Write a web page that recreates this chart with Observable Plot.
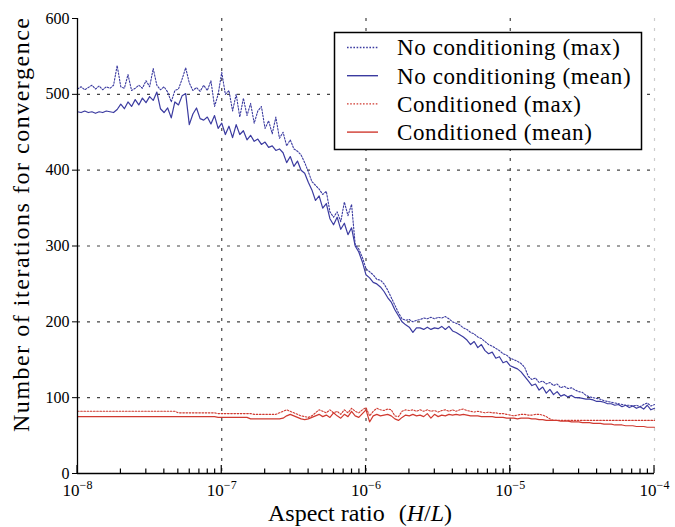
<!DOCTYPE html>
<html><head><meta charset="utf-8">
<script src="https://cdn.jsdelivr.net/npm/d3@7"></script>
<script src="https://cdn.jsdelivr.net/npm/@observablehq/plot@0.6"></script>
<style>
body{margin:0;background:#fff}
#chart{width:675px;height:527px}
</style>
</head><body><div id="chart"></div>
<script>
// log10 of aspect ratio H/L
const exps = [
-8,-7.975,-7.95,-7.925,-7.9,-7.875,-7.85,-7.825,-7.8,-7.775,
-7.75,-7.725,-7.7,-7.675,-7.65,-7.625,-7.6,-7.575,-7.55,-7.525,
-7.5,-7.475,-7.45,-7.425,-7.4,-7.375,-7.35,-7.325,-7.3,-7.275,
-7.25,-7.225,-7.2,-7.175,-7.15,-7.125,-7.1,-7.075,-7.05,-7.025,
-7,-6.975,-6.95,-6.925,-6.9,-6.875,-6.85,-6.825,-6.8,-6.775,
-6.75,-6.725,-6.7,-6.675,-6.65,-6.625,-6.6,-6.575,-6.55,-6.525,
-6.5,-6.475,-6.45,-6.425,-6.4,-6.375,-6.35,-6.325,-6.3,-6.275,
-6.25,-6.225,-6.2,-6.175,-6.15,-6.125,-6.1,-6.075,-6.05,-6.025,
-6,-5.975,-5.95,-5.925,-5.9,-5.875,-5.85,-5.825,-5.8,-5.775,
-5.75,-5.725,-5.7,-5.675,-5.65,-5.625,-5.6,-5.575,-5.55,-5.525,
-5.5,-5.475,-5.45,-5.425,-5.4,-5.375,-5.35,-5.325,-5.3,-5.275,
-5.25,-5.225,-5.2,-5.175,-5.15,-5.125,-5.1,-5.075,-5.05,-5.025,
-5,-4.975,-4.95,-4.925,-4.9,-4.875,-4.85,-4.825,-4.8,-4.775,
-4.75,-4.725,-4.7,-4.675,-4.65,-4.625,-4.6,-4.575,-4.55,-4.525,
-4.5,-4.475,-4.45,-4.425,-4.4,-4.375,-4.35,-4.325,-4.3,-4.275,
-4.25,-4.225,-4.2,-4.175,-4.15,-4.125,-4.1,-4.075,-4.05,-4.025,
-4];

const noCondMax = [
507,510,506,509,512,507,511,506,510,508,
512,538,510,508,526,505,508,512,508,518,
510,534,512,506,510,503,490,505,507,520,
535,515,505,509,504,512,505,518,484,500,
529,500,505,478,500,470,495,472,488,462,
478,484,455,465,448,470,442,450,432,440,
428,425,420,410,398,385,380,375,368,372,
345,338,345,332,358,340,355,302,296,285,
270,266,262,256,255,250,242,232,222,212,
204,202,203,200,202,203,205,204,206,204,
206,205,207,204,200,198,196,192,190,186,
184,180,178,174,170,168,165,162,158,156,
152,150,148,145,140,128,124,126,120,122,
118,120,116,118,113,115,112,113,110,108,
107,103,101,100,99,98,96,95,94,93,
92,91,90,90,89,90,88,91,93,89,
91];

const noCondMean = [
477,476,478,476,477,475,477,476,478,477,
476,480,487,481,490,484,493,486,495,489,
497,492,503,481,476,482,469,490,486,498,
501,460,474,482,468,466,470,461,472,455,
462,447,458,443,460,447,452,440,446,438,
441,434,437,430,432,426,428,423,410,418,
405,412,400,396,384,374,360,366,350,356,
336,328,338,322,330,315,324,300,292,279,
262,258,252,250,246,240,232,226,216,208,
200,196,193,186,192,192,190,193,190,192,
191,194,190,194,188,186,183,180,176,170,
174,166,170,162,158,160,152,154,146,148,
142,140,138,134,128,122,116,118,110,114,
106,111,104,108,102,104,101,103,100,100,
99,98,98,97,95,95,94,92,92,90,
91,88,90,87,89,86,88,85,90,84,
86];

const condMax = [
82,82,82,82,82,82,82,82,82,82,
82,82,82,82,82,82,82,82,82,82,
82,82,82,82,82,82,82,82,80,80,
80,80,80,80,80,80,80,80,80,79,
79,79,79,79,79,79,79,79,79,78,
78,78,78,78,78,78,80,82,84,82,
80,78,76,75,74,76,80,84,82,80,
84,80,82,78,84,80,86,82,80,84,
87,76,82,86,84,83,85,84,76,75,
82,84,83,84,82,84,82,84,82,83,
81,83,84,82,84,82,84,85,83,82,
81,82,81,80,81,80,80,79,79,78,
77,76,77,78,78,77,77,78,78,77,
75,72,70,70,70,70,70,70,70,70,
70,70,70,70,70,70,70,70,70,70,
70,70,70,70,70,70,70,70,70,70,
70];

const condMean = [
75,75,75,75,75,75,75,75,75,75,
75,75,75,75,75,75,75,75,75,75,
75,75,75,75,75,75,75,75,75,75,
75,75,75,75,75,75,75,75,75,74,
74,74,74,74,74,74,74,74,72,72,
72,72,72,72,72,72,72,73,76,78,
76,74,72,71,72,74,76,78,75,77,
74,80,76,73,78,75,82,76,74,79,
84,68,76,78,76,77,78,76,72,70,
74,77,76,78,76,77,75,79,73,78,
75,77,76,78,77,78,77,78,77,76,
76,76,75,75,75,75,74,74,74,73,
73,73,72,73,73,73,72,72,71,71,
70,70,70,70,69,69,69,68,68,68,
67,67,67,66,66,66,65,65,65,64,
64,64,63,63,63,62,62,62,61,61,
61];

const seriesLabels = ["No conditioning (max)", "No conditioning (mean)", "Conditioned (max)", "Conditioned (mean)"];
const yTicks = [0, 100, 200, 300, 400, 500, 600];
const yGridValues = [100, 200, 300, 400, 500];
const decades = [1e-8, 1e-7, 1e-6, 1e-5, 1e-4];

const BLUE = "#3b3ba0", RED = "#d03a30";
const styles = [
  {stroke: BLUE, dash: "1.6,1.6"},
  {stroke: BLUE, dash: null},
  {stroke: RED, dash: "1.6,1.6"},
  {stroke: RED, dash: null}
];

const data = exps.map((e, i) => ({
  x: Math.pow(10, e),
  noCondMax: noCondMax[i], noCondMean: noCondMean[i],
  condMax: condMax[i], condMean: condMean[i]
}));

const minorTicks = [];
for (let d = -8; d < -4; d++) for (let k = 2; k <= 9; k++) minorTicks.push(k * Math.pow(10, d));

const gridStyle = {stroke: "#444", strokeOpacity: 1, strokeWidth: 1.2, strokeDasharray: "3,7"};
const FONT = "'Liberation Serif', serif";

const svg = Plot.plot({
  width: 675, height: 527,
  marginLeft: 77, marginRight: 21, marginTop: 18, marginBottom: 54,
  x: {type: "log", domain: [1e-8, 1e-4]},
  y: {domain: [0, 600]},
  style: {fontFamily: FONT, fontSize: "16px", color: "#000", background: "#fff"},
  marks: [
    Plot.gridY({ticks: yGridValues, ...gridStyle}),
    Plot.gridX({ticks: decades.slice(1, 4), ...gridStyle}),
    Plot.gridX({ticks: [1e-4], ...gridStyle, stroke: "#ccc"}),
    Plot.line(data, {x: "x", y: "condMax", stroke: RED, strokeWidth: 1.1, strokeDasharray: "1.6,1.6"}),
    Plot.line(data, {x: "x", y: "condMean", stroke: RED, strokeWidth: 1.2}),
    Plot.line(data, {x: "x", y: "noCondMax", stroke: BLUE, strokeWidth: 1.1, strokeDasharray: "1.6,1.6"}),
    Plot.line(data, {x: "x", y: "noCondMean", stroke: BLUE, strokeWidth: 1.2}),
    Plot.ruleX([1e-8], {stroke: "#000", strokeWidth: 1.3}),
    Plot.ruleY([0], {stroke: "#000", strokeWidth: 1.3}),
    Plot.axisY({ticks: yTicks, tickSize: 5, tickPadding: 3, label: null, fontSize: 16}),
    Plot.axisX({ticks: decades, tickSize: 0, tickPadding: 10, label: null, fontSize: 17,
      tickFormat: d => "\u2212" + Math.round(-Math.log10(d))})
  ]
});

document.getElementById("chart").appendChild(svg);
const s = d3.select(svg);
const sx = svg.scale("x"), sy = svg.scale("y");
const yBase = sy.apply(0);

// inward x ticks (major and minor), positioned through Plot's x scale
const tg = s.append("g").attr("stroke", "#000").attr("stroke-width", 1.2);
decades.forEach(v => {
  const px = sx.apply(v);
  tg.append("line").attr("x1", px).attr("x2", px).attr("y1", yBase).attr("y2", yBase - 8);
});
minorTicks.forEach(v => {
  const px = sx.apply(v);
  tg.append("line").attr("x1", px).attr("x2", px).attr("y1", yBase).attr("y2", yBase - 4.5);
});

// superscript exponents on x tick labels
s.selectAll('g[aria-label="x-axis tick label"] text').each(function () {
  const exp = this.textContent;
  if (!exp) { this.remove(); return; }
  const t = d3.select(this);
  t.text("10");
  t.append("tspan").attr("dy", "-0.55em").attr("font-size", "12px").text(exp);
});

// axis titles
s.append("text")
  .attr("transform", "translate(29,225) rotate(-90)")
  .attr("text-anchor", "middle")
  .attr("font-family", FONT)
  .attr("font-size", 24)
  .attr("textLength", 414).attr("lengthAdjust", "spacing")
  .text("Number of iterations for convergence");

const xl = s.append("text")
  .attr("x", 360).attr("y", 521)
  .attr("text-anchor", "middle")
  .attr("font-family", FONT)
  .attr("font-size", 24);
xl.append("tspan").text("Aspect ratio");
xl.append("tspan").attr("dx", 14).text("(");
xl.append("tspan").attr("font-style", "italic").text("H");
xl.append("tspan").text("/");
xl.append("tspan").attr("font-style", "italic").text("L");
xl.append("tspan").text(")");

// legend
const lg = s.append("g");
lg.append("rect").attr("x", 334.5).attr("y", 32.5).attr("width", 307).attr("height", 117)
  .attr("fill", "#fff").attr("stroke", "#000").attr("stroke-width", 1.5);
seriesLabels.forEach((lab, i) => {
  const y = 47.5 + i * 28.2;
  lg.append("line").attr("x1", 347).attr("x2", 378).attr("y1", y).attr("y2", y)
    .attr("stroke", styles[i].stroke).attr("stroke-width", 1.4)
    .attr("stroke-dasharray", styles[i].dash);
  lg.append("text").attr("x", 397).attr("y", y).attr("dy", "0.34em")
    .attr("text-anchor", "start")
    .attr("font-family", FONT).attr("font-size", 23)
    .attr("letter-spacing", "0.6px")
    .text(lab);
});
</script>
</body></html>
